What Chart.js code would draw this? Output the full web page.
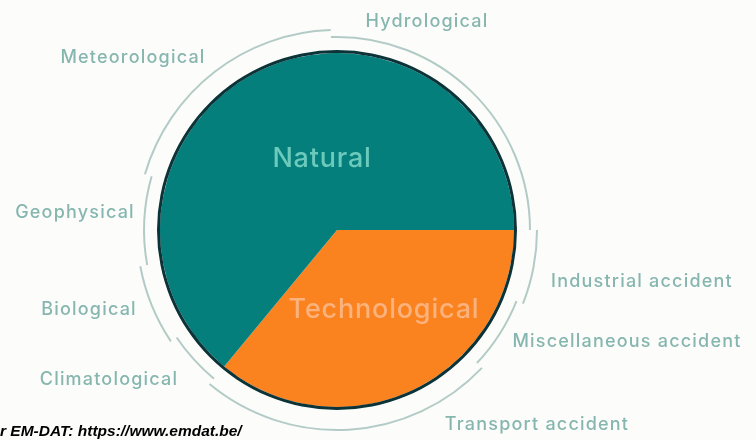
<!DOCTYPE html>
<html>
<head>
<meta charset="utf-8">
<script src="https://cdn.jsdelivr.net/npm/chart.js@4.4.1/dist/chart.umd.min.js"></script>
<style>
  html, body { margin: 0; padding: 0; background: #fcfdfa; }
  canvas { display: block; }
</style>
</head>
<body>
<canvas id="grafico" width="756" height="440"></canvas>
<script>
// main split
const tiposLabels = ['Technological', 'Natural'];
const tiposValores = [36, 64];

// subgroups, in the same clockwise order as the main split
const subLabels = ['Industrial accident', 'Miscellaneous accident', 'Transport accident',
  'Climatological', 'Biological', 'Geophysical', 'Meteorological', 'Hydrological'];
const subValores = [6, 6.1, 23.9, 4.6, 6.5, 7.4, 20, 25.5];

const corLinha = '#b3cbc7';
const corNatural = '#047f7c';
const corTecno = '#fa8320';
const corBorda = '#0b3338';

// subgroup arcs alternate between two rings
const anelExterno = subValores.map((v, i) => i % 2 === 0 ? corLinha : 'rgba(0,0,0,0)');
const anelInterno = subValores.map((v, i) => i % 2 === 1 ? corLinha : 'rgba(0,0,0,0)');

// label spots relative to the pie centre (x, baseline)
const posSub = [
  [305, 57], [290, 117], [200, 200],
  [-228, 155], [-248, 85], [-262, -12], [-204, -167], [90, -203]
];
const posTipos = [[47, 88], [-15, -63]];

const rotulos = {
  id: 'rotulos',
  afterDatasetsDraw(chart) {
    const arco = chart.getDatasetMeta(5).data[0];
    const cx = arco.x, cy = arco.y;
    const c = chart.ctx;
    c.save();
    c.textAlign = 'center';
    c.textBaseline = 'alphabetic';
    c.font = '500 18px Inter';
    c.letterSpacing = '1.2px';
    c.fillStyle = '#86b6af';
    subLabels.forEach((t, i) => c.fillText(t, cx + posSub[i][0], cy + posSub[i][1]));
    c.font = '500 27px Inter';
    c.letterSpacing = '0.8px';
    c.fillStyle = '#fbb27c';
    c.fillText(tiposLabels[0], cx + posTipos[0][0], cy + posTipos[0][1]);
    c.fillStyle = '#6ccabd';
    c.fillText(tiposLabels[1], cx + posTipos[1][0], cy + posTipos[1][1]);
    c.textAlign = 'left';
    c.letterSpacing = '0px';
    c.font = 'italic bold 15.5px "Liberation Sans"';
    c.fillStyle = '#000';
    c.fillText('r EM-DAT: https://www.emdat.be/', 0, 436);
    c.restore();
  }
};

const vazio = n => ({ data: [1], backgroundColor: ['rgba(0,0,0,0)'], weight: n });

new Chart(document.getElementById('grafico'), {
  type: 'pie',
  data: {
    labels: subLabels,
    datasets: [
      { data: subValores, backgroundColor: anelExterno, weight: 2 },
      vazio(5),
      { data: subValores, backgroundColor: anelInterno, weight: 2 },
      vazio(12),
      { data: [100], backgroundColor: [corBorda], weight: 3 },
      { data: tiposValores, backgroundColor: [corTecno, corNatural], weight: 177 }
    ]
  },
  options: {
    responsive: false,
    animation: false,
    events: [],
    rotation: 90,
    borderWidth: 0,
    hoverBorderWidth: 0,
    layout: { padding: { left: 136, right: 218, top: 29, bottom: 9 } },
    plugins: { legend: { display: false }, tooltip: { enabled: false } }
  },
  plugins: [rotulos]
});
</script>
</body>
</html>
